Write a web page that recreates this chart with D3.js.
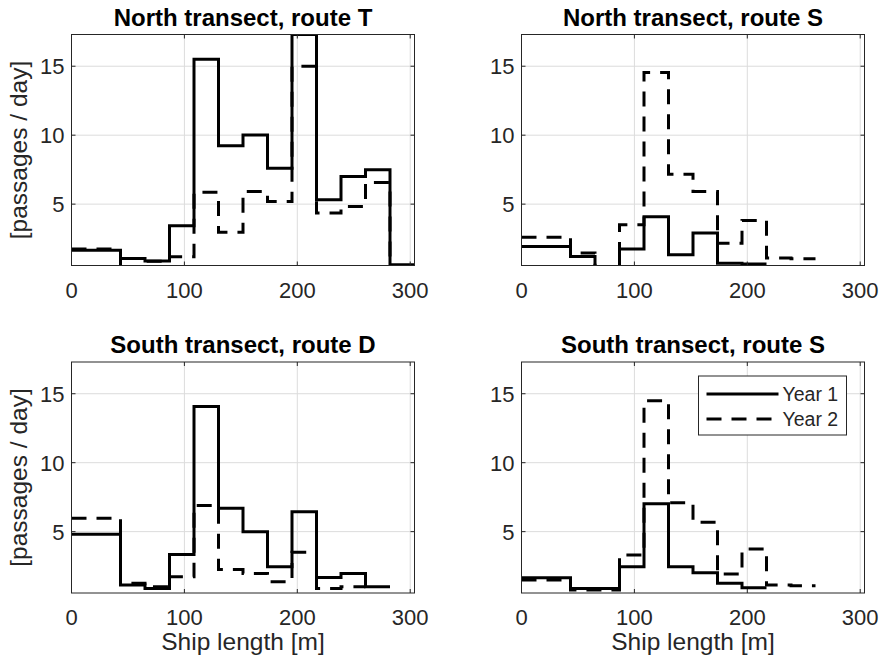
<!DOCTYPE html>
<html lang="en">
<head>
    <meta charset="UTF-8">
    <title>Ship length histograms</title>
    <script src="https://cdn.jsdelivr.net/npm/d3@7"></script>
    <style>
        body {
            margin: 0;
            background: #fff;
        }
        text {
            font-family: "Liberation Sans", Arial, sans-serif;
            fill: #262626;
        }
        .grid line {
            stroke: #dcdcdc;
            stroke-width: 1px;
        }
        .box {
            fill: none;
            stroke: #262626;
            stroke-width: 1px;
        }
        .series {
            fill: none;
            stroke: #000;
            stroke-width: 3px;
            stroke-linejoin: miter;
        }
        .dashed {
            stroke-dasharray: 15, 10;
        }
    </style>
</head>
<body>
    <svg id="chart" width="883" height="661"></svg>

    <script>
        // bin edges of the length histogram [m]
        const binEdges = [0, 21.7, 43.4, 65.1, 86.8, 108.5, 130.2, 151.9, 173.6, 195.3, 217, 238.7, 260.4, 282.1, 303.8];

        const xTicks = [0, 100, 200, 300];
        const yTicks = [5, 10, 15];
        const xDomain = [0, 303.8];
        const yDomain = [0.55, 17.3];

        const titles = ['North transect, route T', 'North transect, route S',
                        'South transect, route D', 'South transect, route S'];
        const seriesNames = ['Year 1', 'Year 2'];

        // passages / day per bin (null = no bin drawn)
        const northT_year1 = [1.65, 1.65, 1.05, 0.88, 3.43, 15.5, 9.23, 10.02, 7.6, 17.3, 5.31, 7.0, 7.49, 0.6];
        const northT_year2 = [1.75, 1.75, 0.4, 0.85, 1.18, 5.87, 2.97, 5.92, 5.19, 15.0, 4.35, 4.83, 6.57, 0.55];
        const northS_year1 = [1.93, 1.93, 1.21, 0, 1.74, 4.08, 1.33, 2.9, 0.72, 0.65, null, null, null, null];
        const northS_year2 = [2.6, 2.6, 1.45, 0, 3.5, 14.54, 7.17, 5.92, 2.17, 3.82, 1.09, 1.04, null, null];
        const southD_year1 = [4.81, 4.81, 1.13, 0.88, 3.35, 14.08, 6.69, 5.0, 2.46, 6.45, 1.68, 1.97, 1.0, null];
        const southD_year2 = [5.97, 5.97, 1.25, 1.0, 1.73, 6.89, 2.26, 1.97, 1.37, 3.5, 0.88, 1.0, null, null];
        const southS_year1 = [1.66, 1.66, 0.88, 0.88, 2.46, 7.03, 2.46, 2.02, 1.25, 0.93, null, null, null, null];
        const southS_year2 = [1.49, 1.49, 0.76, 0.76, 3.3, 14.49, 7.1, 5.68, 1.92, 3.74, 1.13, 1.08, null, null];

        const panels = [
            { title: titles[0], y1: northT_year1, y2: northT_year2, left: 71.5, top: 34.5, ylabel: true },
            { title: titles[1], y1: northS_year1, y2: northS_year2, left: 521.5, top: 34.5 },
            { title: titles[2], y1: southD_year1, y2: southD_year2, left: 71.5, top: 362, ylabel: true, xlabel: true },
            { title: titles[3], y1: southS_year1, y2: southS_year2, left: 521.5, top: 362, xlabel: true, legend: true }
        ];
        const W = 343, H = 231, tickLen = 4;

        const svg = d3.select('#chart');

        panels.forEach((p, idx) => {
            const g = svg.append('g').attr('transform', `translate(${p.left},${p.top})`);
            const x = d3.scaleLinear().domain(xDomain).range([0, W]);
            const y = d3.scaleLinear().domain(yDomain).range([H, 0]);

            // grid
            const grid = g.append('g').attr('class', 'grid');
            grid.selectAll('.gx').data(xTicks.filter(t => t > 0)).join('line')
                .attr('x1', d => x(d)).attr('x2', d => x(d))
                .attr('y1', 0).attr('y2', H);
            grid.selectAll('.gy').data(yTicks).join('line')
                .attr('x1', 0).attr('x2', W)
                .attr('y1', d => y(d)).attr('y2', d => y(d));

            // clip to plot box
            const clipId = 'clip' + idx;
            g.append('clipPath').attr('id', clipId)
                .append('rect').attr('x', 0).attr('y', 0).attr('width', W).attr('height', H);

            const line = d3.line()
                .x(d => x(d[0]))
                .y(d => y(d[1]))
                .curve(d3.curveStepAfter);

            function stairs(values) {
                const pts = [];
                let last = null;
                values.forEach((v, i) => {
                    if (v === null) return;
                    pts.push([binEdges[i], v]);
                    last = i;
                });
                pts.push([binEdges[last + 1], values[last]]);
                return pts;
            }

            g.append('path')
                .attr('class', 'series')
                .attr('clip-path', `url(#${clipId})`)
                .attr('d', line(stairs(p.y1)));
            g.append('path')
                .attr('class', 'series dashed')
                .attr('clip-path', `url(#${clipId})`)
                .attr('d', line(stairs(p.y2)));

            // box
            g.append('rect').attr('class', 'box')
                .attr('x', 0).attr('y', 0).attr('width', W).attr('height', H);

            // ticks (inside, all four sides)
            const tk = g.append('g').attr('stroke', '#262626').attr('stroke-width', 1);
            xTicks.forEach(t => {
                tk.append('line').attr('x1', x(t)).attr('x2', x(t)).attr('y1', H).attr('y2', H - tickLen);
                tk.append('line').attr('x1', x(t)).attr('x2', x(t)).attr('y1', 0).attr('y2', tickLen);
            });
            yTicks.forEach(t => {
                tk.append('line').attr('x1', 0).attr('x2', tickLen).attr('y1', y(t)).attr('y2', y(t));
                tk.append('line').attr('x1', W).attr('x2', W - tickLen).attr('y1', y(t)).attr('y2', y(t));
            });

            // tick labels
            g.selectAll('.xl').data(xTicks).join('text')
                .attr('x', d => x(d)).attr('y', H + 32)
                .attr('text-anchor', 'middle')
                .style('font-size', '22px')
                .text(d => d);
            g.selectAll('.yl').data(yTicks).join('text')
                .attr('x', -7).attr('y', d => y(d) + 8)
                .attr('text-anchor', 'end')
                .style('font-size', '22px')
                .text(d => d);

            // title
            g.append('text')
                .attr('x', W / 2).attr('y', -9)
                .attr('text-anchor', 'middle')
                .style('font-size', '24px')
                .style('font-weight', 'bold')
                .style('fill', '#000')
                .text(p.title);

            if (p.xlabel) {
                g.append('text')
                    .attr('x', W / 2).attr('y', H + 57)
                    .attr('text-anchor', 'middle')
                    .style('font-size', '24.5px')
                    .text('Ship length [m]');
            }
            if (p.ylabel) {
                g.append('text')
                    .attr('transform', `translate(${-45},${H / 2}) rotate(-90)`)
                    .attr('text-anchor', 'middle')
                    .style('font-size', '24.5px')
                    .text('[passages / day]');
            }

            if (p.legend) {
                const lg = g.append('g').attr('transform', `translate(${177},${14})`);
                lg.append('rect')
                    .attr('width', 148).attr('height', 59)
                    .attr('fill', '#fff').attr('stroke', '#262626').attr('stroke-width', 1);
                seriesNames.forEach((name, i) => {
                    const ly = 18 + i * 25;
                    lg.append('line')
                        .attr('class', i === 0 ? 'series' : 'series dashed')
                        .attr('x1', 8).attr('x2', 80)
                        .attr('y1', ly).attr('y2', ly);
                    lg.append('text')
                        .attr('x', 84).attr('y', ly + 7)
                        .style('font-size', '19.5px')
                        .text(name);
                });
            }
        });
    </script>
</body>
</html>
